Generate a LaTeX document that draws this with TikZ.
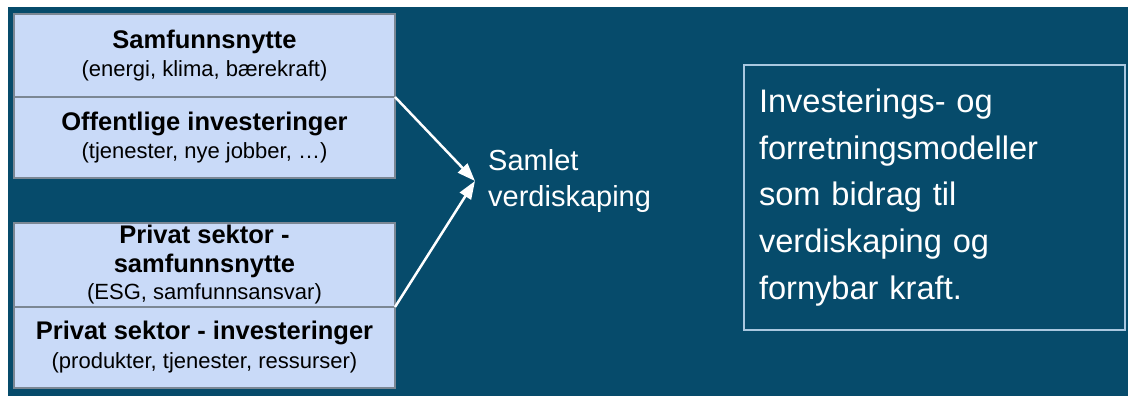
\documentclass[tikz,border=0pt]{standalone}
\usepackage{fontspec}
\setmainfont{Liberation Sans}
\usetikzlibrary{arrows.meta}
\usetikzlibrary{positioning}
\definecolor{bgblue}{HTML}{064B6B}
\definecolor{cellblue}{HTML}{C9DAF8}
\definecolor{cellline}{HTML}{7B8794}
\definecolor{frameblue}{HTML}{A9C8E0}

\begin{document}
\begin{tikzpicture}
    [x=1pt, y=-1pt,
     cell/.style={rectangle, draw=cellline, fill=cellblue, line width=1.5pt, outer sep=0pt,
                  minimum width=381pt, align=center, text=black, inner sep=0pt,
                  font=\fontsize{22}{25}\selectfont},
     into/.style={-{Triangle[length=18pt, width=13pt]}, draw=white, fill=white, line width=2.5pt},
     tn/.style={text=white, inner sep=0pt, align=left}]

    \useasboundingbox (0,0) rectangle (1128,396);
    \fill [bgblue] (8,7) rectangle (1128,396);

    \node [cell, minimum height=83pt, anchor=north west] (s0) at (14,14) {
    {\fontsize{25.5}{29}\selectfont\bfseries Samfunnsnytte}\\[3pt]
    (energi, klima, bærekraft)
    };
    \node [cell, below=0pt of s0, minimum height=81pt] (s1) {
    {\fontsize{25.5}{29}\selectfont\bfseries Offentlige investeringer}\\[3pt]
    (tjenester, nye jobber, …)
    };
    \node [cell, minimum height=84pt, anchor=north west] (p0) at (14,223) {
    {\fontsize{25.5}{29}\selectfont\bfseries Privat sektor -}\\[4pt]
    {\fontsize{25.5}{29}\selectfont\bfseries samfunnsnytte}\\[2pt]
    (ESG, samfunnsansvar)
    };
    \node [cell, below=0pt of p0, minimum height=81pt] (p1) {
    {\fontsize{25.5}{29}\selectfont\bfseries Privat sektor - investeringer}\\[4pt]
    (produkter, tjenester, ressurser)
    };

    \node [tn, anchor=west, font=\fontsize{29}{36}\selectfont] (sam) at (488,181) {
    Samlet\\
    verdiskaping
    };
    \coordinate [left=13pt of sam.west] (meet);

    \draw [into] (s0.south east) -- (meet);
    \draw [into] (p0.south east) -- (meet);

    \node [rectangle, draw=frameblue, line width=1.5pt, minimum width=381pt, minimum height=265pt,
           text width=351pt, align=left, text=white, inner sep=15pt,
           font=\fontsize{32.6}{46.7}\selectfont] (mod) at (934.5,197.5) {
    Investerings- og\\
    forretningsmodeller\\
    som bidrag til\\
    verdiskaping og\\
    fornybar kraft.
    };
\end{tikzpicture}
\end{document}
